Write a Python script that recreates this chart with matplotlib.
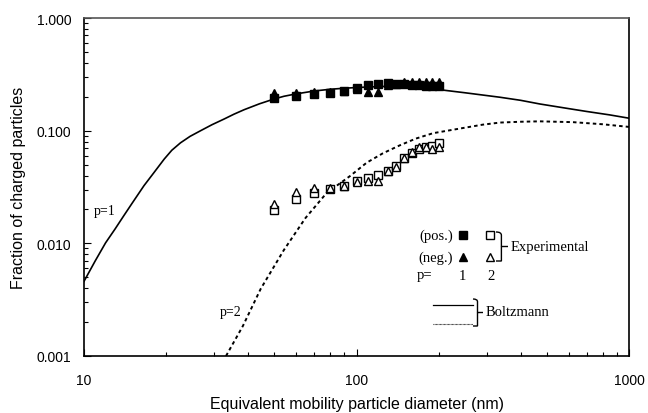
import matplotlib
matplotlib.use("Agg")
import matplotlib.pyplot as plt
from matplotlib.path import Path
from matplotlib.patches import PathPatch

# Boltzmann charge distribution curves
d_p1 = [10, 11, 12, 13, 14, 15, 16.6, 18, 19.7, 21, 22.6, 24.5, 26.8, 29.5, 32.7,
        35.5, 38.7, 44, 49.8, 54.2, 60, 70, 80, 90, 100, 115, 130, 160, 202, 250,
        336, 400, 471, 600, 700, 850, 1000]
f_p1 = [0.0046, 0.0070, 0.0101, 0.0134, 0.0176, 0.0226, 0.0325, 0.042, 0.056, 0.067,
        0.078, 0.089, 0.100, 0.113, 0.127, 0.140, 0.1535, 0.173, 0.191, 0.202, 0.212,
        0.225, 0.233, 0.238, 0.2415, 0.245, 0.2475, 0.245, 0.231, 0.217, 0.198, 0.186,
        0.1725, 0.157, 0.148, 0.138, 0.129]

d_p2 = [33.2, 38.3, 44.5, 54.1, 65, 77.7, 94.6, 109, 125, 144, 165, 191, 240, 290,
        336, 400, 471, 623, 800, 1000]
f_p2 = [0.001, 0.00185, 0.00394, 0.0087, 0.0168, 0.0280, 0.0395, 0.052, 0.063,
        0.0740, 0.0850, 0.0950, 0.1045, 0.113, 0.118, 0.120, 0.121, 0.119, 0.114,
        0.108]

# Experimental charged fractions
d_exp = [50, 60, 70, 80, 90, 100, 110, 120, 130, 140, 150, 160, 170, 180, 190, 200]
pos_p1 = [0.195, 0.205, 0.212, 0.218, 0.226, 0.237, 0.255, 0.258, 0.266, 0.262,
          0.258, 0.255, 0.252, 0.250, 0.248, 0.250]
neg_p1 = [0.215, 0.218, 0.222, 0.220, 0.225, 0.232, 0.222, 0.222, 0.255, 0.262,
          0.270, 0.272, 0.270, 0.270, 0.268, 0.268]
pos_p2 = [0.0198, 0.0248, 0.0278, 0.0304, 0.032, 0.0356, 0.0383, 0.0405, 0.0439,
          0.0489, 0.0576, 0.0634, 0.0688, 0.0712, 0.0736, 0.0778]
neg_p2 = [0.0225, 0.0284, 0.031, 0.031, 0.0325, 0.035, 0.0357, 0.036, 0.0435,
          0.048, 0.057, 0.065, 0.0715, 0.071, 0.069, 0.0712]

x_ticks = [10, 100, 1000]
x_ticklabels = ["10", "100", "1000"]
y_ticks = [0.001, 0.01, 0.1, 1.0]
y_ticklabels = ["0.001", "0.010", "0.100", "1.000"]

serif = ["Liberation Serif", "DejaVu Serif"]
plt.rcParams["font.family"] = ["Liberation Sans", "DejaVu Sans"]

fig = plt.figure(figsize=(6.48, 4.14), dpi=100)
ax = fig.add_axes([84 / 648, 1 - 357 / 414, 545 / 648, 338 / 414])

ax.plot(d_p1, f_p1, color="black", lw=1.2, zorder=2)
ax.plot(d_p2, f_p2, color="black", lw=1.4, linestyle=(0, (1.8, 1.6)), zorder=2)

ms = 5.8
ax.plot(d_exp, pos_p1, ls="none", marker="s", ms=ms, color="black", zorder=3)
ax.plot(d_exp, neg_p1, ls="none", marker="^", ms=ms + 0.6, color="black", zorder=3)
ax.plot(d_exp, pos_p2, ls="none", marker="s", ms=ms, mfc="white", mec="black",
        mew=1.0, zorder=3)
ax.plot(d_exp, neg_p2, ls="none", marker="^", ms=ms + 0.6, mfc="white", mec="black",
        mew=1.0, zorder=4)

ax.set_xscale("log")
ax.set_yscale("log")
ax.set_xlim(10, 1000)
ax.set_ylim(0.001, 1.0)
ax.set_xticks(x_ticks)
ax.set_xticklabels(x_ticklabels)
ax.set_yticks(y_ticks)
ax.set_yticklabels(y_ticklabels)
ax.tick_params(which="major", direction="in", length=5, width=0.8, labelsize=10,
               top=False, right=False, pad=9)
ax.tick_params(which="minor", direction="in", length=3, width=0.8,
               top=False, right=False)
ax.tick_params(axis="x", which="major", pad=12)
ax.xaxis.set_minor_formatter(matplotlib.ticker.NullFormatter())
ax.yaxis.set_minor_formatter(matplotlib.ticker.NullFormatter())
for side in ["left", "bottom", "right"]:
    ax.spines[side].set_linewidth(1.2)
    ax.spines[side].set_color("black")
ax.spines["top"].set_linewidth(1.2)
ax.spines["top"].set_color("#555555")

ax.set_xlabel("Equivalent mobility particle diameter (nm)", fontsize=11.5, labelpad=7)
ax.set_ylabel("Fraction of charged particles", fontsize=11.5, labelpad=8)

# curve labels
ax.text(11.9, 0.0197, "p=1", family=serif, fontsize=10, ha="center", va="center")
ax.text(34.4, 0.0025, "p=2", family=serif, fontsize=10, ha="center", va="center")

# hand-made key
T = ax.transAxes
kfs = 10.5


def fx(px):
    return (px - 84) / 545


def fy(py):
    return (357 - py) / 338


ax.text(fx(453), fy(236), "(pos.)", family=serif, fontsize=kfs, ha="right",
        va="center", transform=T)
ax.text(fx(453), fy(258), "(neg.)", family=serif, fontsize=kfs, ha="right",
        va="center", transform=T)
ax.text(fx(432), fy(276), "p=", family=serif, fontsize=kfs, ha="right",
        va="center", transform=T)
ax.text(fx(462), fy(276), "1", family=serif, fontsize=kfs, ha="center",
        va="center", transform=T)
ax.text(fx(491), fy(276), "2", family=serif, fontsize=kfs, ha="center",
        va="center", transform=T)
ax.plot([fx(462.5)], [fy(236)], marker="s", ms=ms, color="black", transform=T,
        clip_on=False)
ax.plot([fx(462.5)], [fy(258)], marker="^", ms=ms + 0.6, color="black", transform=T,
        clip_on=False)
ax.plot([fx(490)], [fy(236)], marker="s", ms=ms, mfc="white", mec="black", mew=1.0,
        transform=T, clip_on=False)
ax.plot([fx(490)], [fy(258)], marker="^", ms=ms + 0.6, mfc="white", mec="black",
        mew=1.0, transform=T, clip_on=False)

ax.plot([fx(432.7), fx(473.3)], [fy(306), fy(306)], color="black", lw=0.9,
        transform=T)
ax.plot([fx(432.7), fx(473.3)], [fy(324.5), fy(324.5)], color="black", lw=0.8,
        linestyle=(0, (0.6, 0.6)), transform=T)


def brace(x0, y0, y1, w):
    # right-pointing curly bracket in pixel-like coordinates
    ym = (y0 + y1) / 2
    r = w * 0.45
    verts = [
        (x0, y0), (x0 + r, y0), (x0 + r, y0 + r * 0.6),
        (x0 + r, ym - r * 0.6),
        (x0 + r, ym), (x0 + r, ym), (x0 + w, ym),
        (x0 + r, ym), (x0 + r, ym), (x0 + r, ym + r * 0.6),
        (x0 + r, y1 - r * 0.6),
        (x0 + r, y1), (x0 + r, y1), (x0, y1),
    ]
    codes = [Path.MOVETO, Path.CURVE3, Path.CURVE3, Path.LINETO,
             Path.CURVE3, Path.CURVE3, Path.LINETO,
             Path.MOVETO, Path.CURVE3, Path.CURVE3, Path.LINETO,
             Path.CURVE3, Path.CURVE3, Path.LINETO]
    verts = [(fx(a), fy(b)) for a, b in verts]
    ax.add_patch(PathPatch(Path(verts, codes), fill=False, lw=1.0, ec="black",
                           transform=T, clip_on=False))


brace(496, 233, 262, 12)
ax.text(fx(511), fy(247), "Experimental", family=serif, fontsize=kfs, ha="left",
        va="center", transform=T)
brace(473, 300, 327, 10)
ax.text(fx(486), fy(313), "Boltzmann", family=serif, fontsize=kfs, ha="left",
        va="center", transform=T)

fig.savefig("out.png", dpi=100)
